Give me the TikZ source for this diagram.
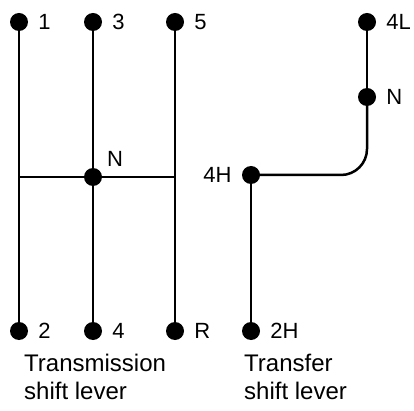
\documentclass[tikz,border=0pt]{standalone}
\usepackage{fontspec}
\setmainfont{Liberation Sans}
\usetikzlibrary{positioning}

\tikzset{
  knob/.style={circle, fill=black, inner sep=0pt, minimum size=18pt},
  gate/.style={line width=2.5pt},
  gear/.style={font=\fontsize{22}{22}\selectfont, inner sep=0pt, label distance=10pt},
  caption/.style={font=\fontsize{24}{28}\selectfont, align=left, anchor=north west, inner sep=0pt}
}

\begin{document}
\begin{tikzpicture}[x=1pt, y=-1pt]
  \useasboundingbox (0,0) rectangle (414,411);

  % Getriebeschalthebel
  \node[knob, label={[gear]right:1}] (g1) at (19,22) {};
  \node[knob, label={[gear]right:3}] (g3) at (93,22) {};
  \node[knob, label={[gear]right:5}] (g5) at (175,22) {};
  \node[knob, label={[gear]right:2}] (g2) at (19,331) {};
  \node[knob, label={[gear]right:4}] (g4) at (93,331) {};
  \node[knob, label={[gear]right:R}] (gR) at (175,331) {};
  \node[knob] (gN) at (93,177) {};
  \node[gear, anchor=south west] (lN) at ([xshift=14pt, yshift=10pt]gN.center) {N};
  \coordinate (links) at (19,177);
  \coordinate (rechts) at (175,177);

  \draw[gate] (g1) -- (g2);
  \draw[gate] (g3) -- (g4);
  \draw[gate] (g5) -- (gR);
  \draw[gate] (links) -- (rechts);

  % Verteilergetriebe
  \node[knob, label={[gear]right:4L}] (t4L) at (367,22) {};
  \node[knob, label={[gear]right:N}] (tN) at (367,97) {};
  \node[knob, label={[gear]left:4H}] (t4H) at (251,175) {};
  \node[knob, label={[gear]right:2H}] (t2H) at (251,331) {};

  \draw[gate] (t4L) -- (tN);
  \draw[gate, rounded corners=26pt] (tN.center) |- (t4H.center);
  \draw[gate] (t4H) -- (t2H);

  % Beschriftung
  \node[caption] (capT) at (24,354) {Transmission\\shift lever};
  \node[caption] (capV) at (244,354) {Transfer\\shift lever};
\end{tikzpicture}
\end{document}
